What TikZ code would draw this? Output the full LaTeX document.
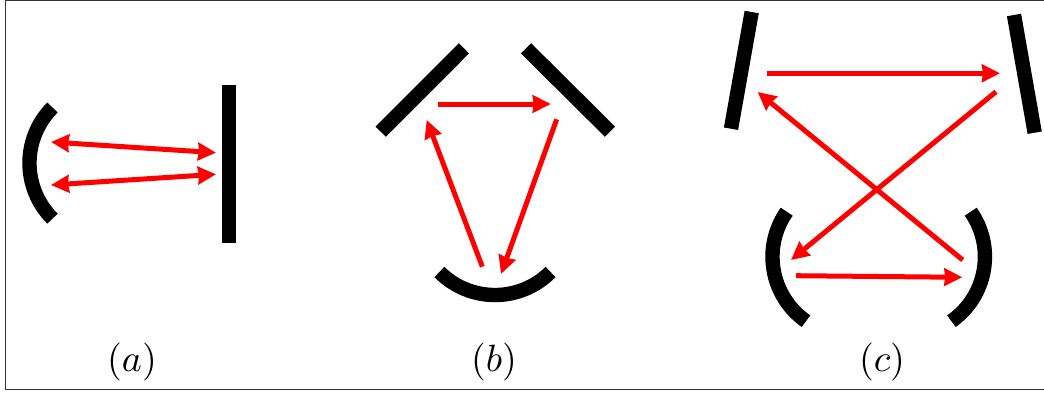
\documentclass[tikz,border=0pt]{standalone}
\usetikzlibrary{arrows.meta}
\tikzset{
  x=1pt,y=-1pt,
  mirror/.style={line width=14.4pt,black},
  ray/.style={line width=5pt,red,-{Stealth[length=18pt,width=17.5pt,inset=1pt]}},
  dblray/.style={line width=5pt,red,{Stealth[length=18pt,width=17.5pt,inset=1pt]}-{Stealth[length=18pt,width=17.5pt,inset=1pt]}},
  caption/.style={inner sep=0pt,scale=3.8,transform shape},
  frameline/.style={line width=1pt,black!80}
}
\begin{document}
\begin{tikzpicture}
\useasboundingbox (0,0) rectangle (1044,394);
\draw[frameline] (5,0.7) rectangle (1044,389);
% (a)
\coordinate (a1) at (229,84.7);
\coordinate (a2) at (229,243);
\draw[mirror] (a1) -- (a2);
\coordinate (aS) at (52.5,107.5);
\draw[mirror] (aS) arc[start angle=225,end angle=135,radius=78.6];
\coordinate (aU1) at (51,142); \coordinate (aU2) at (216,152.7);
\coordinate (aL1) at (51,185); \coordinate (aL2) at (216,174.3);
\draw[dblray] (aU1) -- (aU2);
\draw[dblray] (aL1) -- (aL2);
\node[caption] (la) at (132,361.5) {$(a)$};
% (b)
\coordinate (b1) at (464,48.3); \coordinate (b2) at (380.7,131.7);
\coordinate (b3) at (526,48.3); \coordinate (b4) at (610,131.7);
\draw[mirror] (b1) -- (b2);
\draw[mirror] (b3) -- (b4);
\coordinate (bS) at (439.4,272);
\draw[mirror] (bS) arc[start angle=135,end angle=45,radius=78.6];
\coordinate (bA) at (438.3,104); \coordinate (bB) at (550.7,104);
\coordinate (bC) at (556.7,119.3); \coordinate (bD) at (501,274);
\coordinate (bE) at (482.3,266.7); \coordinate (bF) at (426.7,120);
\draw[ray] (bA) -- (bB);
\draw[ray] (bC) -- (bD);
\draw[ray] (bE) -- (bF);
\node[caption] (lb) at (494,361.5) {$(b)$};
% (c)
\coordinate (c1) at (751.7,12); \coordinate (c2) at (731,128.7);
\coordinate (c3) at (1014,15); \coordinate (c4) at (1034.7,132.7);
\draw[mirror] (c1) -- (c2);
\draw[mirror] (c3) -- (c4);
\coordinate (cS) at (786.7,211.7);
\draw[mirror] (cS) arc[start angle=215,end angle=125,radius=78.6];
\coordinate (cT) at (970.7,211.7);
\draw[mirror] (cT) arc[start angle=-35,end angle=55,radius=78.6];
\coordinate (cA) at (767,73.3); \coordinate (cB) at (1000,73.3);
\coordinate (cC) at (996,91.7); \coordinate (cD) at (791,260);
\coordinate (cE) at (796,275.7); \coordinate (cF) at (962.3,277.3);
\coordinate (cG) at (962.7,260); \coordinate (cH) at (757.7,92);
\draw[ray] (cA) -- (cB);
\draw[ray] (cC) -- (cD);
\draw[ray] (cE) -- (cF);
\draw[ray] (cG) -- (cH);
\node[caption] (lc) at (882,361.5) {$(c)$};
\end{tikzpicture}
\end{document}
